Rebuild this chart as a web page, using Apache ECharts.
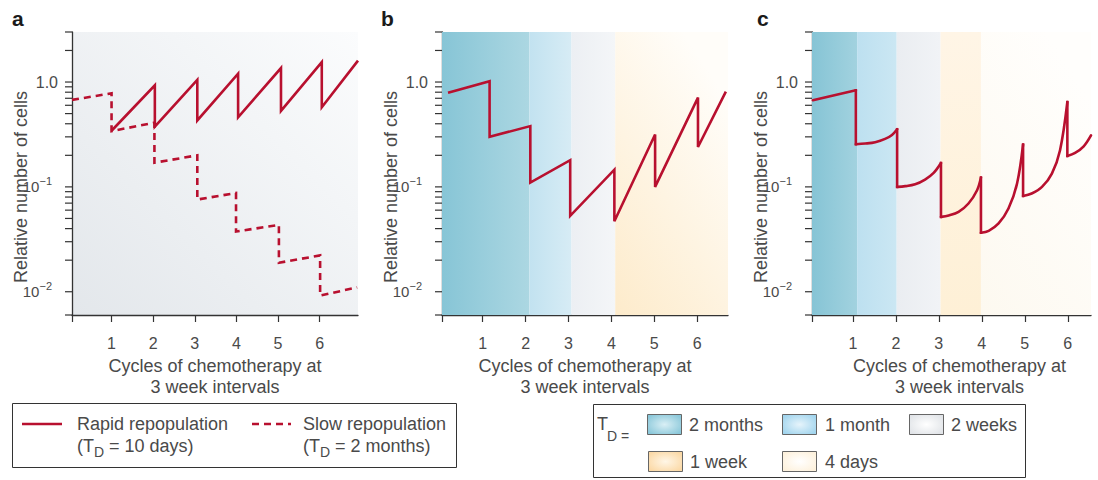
<!DOCTYPE html>
<html><head><meta charset="utf-8">
<script src="https://cdn.jsdelivr.net/npm/echarts@6/dist/echarts.min.js"></script>
<style>html,body{margin:0;padding:0;background:#fff}#c{width:1098px;height:480px}</style>
</head><body><div id="c"></div>
<script>
// ---------- data ----------
const xTickValues = [1, 2, 3, 4, 5, 6];
const yTickValues = [3, 2, 1, 0.9, 0.8, 0.7, 0.6, 0.5, 0.4, 0.3, 0.2, 0.1, 0.09, 0.08, 0.07, 0.06, 0.05, 0.04, 0.03, 0.02, 0.01, 0.006];
const xMin = 0.05;
const xMaxA = 6.92, xMaxB = 6.72, xMaxC = 6.54;
const yMin = 0.006, yMax = 3;

// panel a
const rapidA = [[1.0,0.343],[2.04,0.93],[2.04,0.375],[3.06,1.05],[3.06,0.43],[4.04,1.2],[4.04,0.46],[5.07,1.36],[5.07,0.53],[6.05,1.55],[6.05,0.575],[6.92,1.6]];
const slowA = [[0.05,0.676],[1.0,0.78],[1.0,0.34],[2.03,0.41],[2.03,0.17],[3.06,0.2],[3.06,0.0757],[3.99,0.0875],[3.99,0.0375],[5.02,0.0434],[5.02,0.0189],[6.01,0.0222],[6.01,0.0092],[6.9,0.011]];
// panel b
const lineB = [[0.19,0.79],[1.16,1.02],[1.16,0.30],[2.11,0.38],[2.11,0.11],[3.04,0.18],[3.04,0.053],[4.07,0.146],[4.07,0.047],[5.02,0.316],[5.02,0.1],[6.02,0.71],[6.02,0.24],[6.67,0.81]];
const bandsB = [[0.05,2.09,'2 months'],[2.09,3.07,'1 month'],[3.07,4.09,'2 weeks'],[4.09,6.72,'1 week']];
// panel c
const lineC = [[0.07,0.67],[1.07,0.834],[1.07,0.255],[1.29,0.259],[1.52,0.267],[1.75,0.287],[1.91,0.313],[2.03,0.355],
  [2.03,0.1],[2.22,0.1016],[2.45,0.106],[2.68,0.1175],[2.88,0.136],[3.05,0.169],
  [3.05,0.0518],[3.23,0.0534],[3.46,0.0578],[3.69,0.0694],[3.89,0.093],[3.98,0.123],
  [3.98,0.0365],[4.16,0.0381],[4.39,0.0448],[4.62,0.0622],[4.82,0.1077],[4.96,0.2535],
  [4.96,0.082],[5.16,0.0865],[5.4,0.1],[5.63,0.134],[5.82,0.224],[5.99,0.645],
  [5.99,0.197],[6.17,0.211],[6.37,0.244],[6.54,0.31]];
const bandsC = [[0.05,1.10,'2 months'],[1.10,2.02,'1 month'],[2.02,3.04,'2 weeks'],[3.04,3.98,'1 week'],[3.98,6.54,'4 days']];

const legendTD = ['2 months','1 month','2 weeks','1 week','4 days'];

// ---------- styles ----------
const RED = '#b8102f';
const AX = '#333';
const TXT = '#4a4a4a';
const FONT = '"Liberation Sans", Arial, Helvetica, sans-serif';
function lin(x, y, x2, y2, c1, c2) {
  return {type:'linear', x, y, x2, y2, colorStops:[{offset:0,color:c1},{offset:1,color:c2}]};
}
const bandStyleB = {
  '2 months': lin(0,0,1,0,'#87c5d6','#acd7e2'),
  '1 month':  lin(0,0,1,0,'#c2e2f0','#d7ecf5'),
  '2 weeks':  lin(0,0,1,0,'#eceff3','#f4f6f8'),
  '1 week':   lin(0,1,0.6,0,'#fdebcb','#fffdf9')
};
const bandStyleC = {
  '2 months': lin(0,0,1,0,'#86c4d5','#a2d2df'),
  '1 month':  lin(0,0,1,0,'#bde0f0','#cbe7f3'),
  '2 weeks':  lin(0,0,1,0,'#eaedf1','#f1f3f6'),
  '1 week':   lin(0,1,0,0,'#fef0d6','#fff5e6'),
  '4 days':   lin(0,1,0.6,0,'#fdf9f0','#fffefc')
};
const swatch = {
  '2 months': ['#d9eff5','#8bc8da'],
  '1 month':  ['#e6f4fb','#a2d5ee'],
  '2 weeks':  ['#ffffff','#e1e4e8'],
  '1 week':   ['#fff6e6','#fbd9a6'],
  '4 days':   ['#ffffff','#fdf1dc']
};

const grids = [
  {left:72, top:32, width:286, height:283},
  {left:442, top:32, width:286, height:283},
  {left:812, top:32, width:279, height:283}
];
const xMaxes = [xMaxA, xMaxB, xMaxC];

function fmtY(v) {
  if (Math.abs(v - 1) < 1e-6) return '1.0';
  if (Math.abs(v - 0.1) < 1e-7) return '{b|10}{sup|\u22121}';
  if (Math.abs(v - 0.01) < 1e-8) return '{b|10}{sup|\u22122}';
  return '';
}

const xAxes = grids.map((g, i) => ({
  gridIndex: i, type: 'value', min: xMin, max: xMaxes[i],
  axisLine: {show: true, lineStyle: {color: AX, width: 1.3}},
  axisTick: {show: true, length: 7, lineStyle: {color: AX, width: 1.2}, customValues: [xMin].concat(xTickValues)},
  axisLabel: {show: true, customValues: xTickValues, color: TXT, fontSize: 16, fontFamily: FONT, margin: 20},
  splitLine: {show: false},
  name: 'Cycles of chemotherapy at\n3 week intervals',
  nameLocation: 'middle', nameGap: 32,
  nameTextStyle: {color: TXT, fontSize: 18, fontFamily: FONT, lineHeight: 21, padding: i === 2 ? [0,0,0,16] : 0}
}));

const yAxes = grids.map((g, i) => ({
  gridIndex: i, type: 'log', logBase: 10, min: yMin, max: yMax,
  axisLine: {show: true, lineStyle: {color: AX, width: 1.3}},
  axisTick: {show: false},
  axisLabel: {show: true, color: TXT, fontSize: 16, fontFamily: FONT, margin: 14, lineHeight: 22,
    formatter: fmtY,
    rich: {
      b: {fontSize: 15, lineHeight: 22, color: TXT, fontFamily: FONT},
      sup: {fontSize: 11, lineHeight: 12, verticalAlign: 'top', color: TXT, fontFamily: FONT, padding: [0, 6, 0, 0]}
    }},
  splitLine: {show: false}, minorTick: {show: false},
  name: 'Relative number of cells', nameLocation: 'middle', nameGap: 42, nameMoveOverlap: false,
  nameTextStyle: {color: TXT, fontSize: 18, fontFamily: FONT, padding: [0, 27, 0, 0]}
}));

function tickSeries(i) {
  return {
    type: 'custom', xAxisIndex: i, yAxisIndex: i, silent: true, clip: false, z: 5,
    data: yTickValues.map(v => [xMin, v]),
    renderItem: (params, api) => {
      const p = api.coord([api.value(0), api.value(1)]);
      return {type: 'line', shape: {x1: p[0] - 7, y1: p[1], x2: p[0], y2: p[1]},
        style: {stroke: AX, lineWidth: 1.2}};
    }
  };
}

function bandArea(bands, styles) {
  return {silent: true, label: {show: false},
    data: bands.map(b => [{xAxis: b[0], itemStyle: {color: styles[b[2]], opacity: 1}}, {xAxis: b[1]}])};
}

// split a sawtooth path into its growth curves and its vertical drops (null = gap)
function splitPath(path) {
  const curves = [], drops = [];
  for (let i = 0; i < path.length; i++) {
    curves.push(path[i]);
    if (i + 1 < path.length && path[i + 1][0] === path[i][0]) {
      drops.push(path[i], path[i + 1], null);
      curves.push(null);
    }
  }
  return {curves, drops};
}
const partsC = splitPath(lineC);

const lineBase = {type: 'line', symbol: 'none', showSymbol: false, z: 3,
  lineStyle: {color: RED, width: 2.6, join: 'miter', cap: 'butt'}};

const series = [
  Object.assign({}, lineBase, {name: 'Rapid repopulation', xAxisIndex: 0, yAxisIndex: 0, data: rapidA}),
  Object.assign({}, lineBase, {name: 'Slow repopulation', xAxisIndex: 0, yAxisIndex: 0, data: slowA,
    lineStyle: {color: RED, width: 2.6, type: [7, 5], join: 'miter', cap: 'butt'}}),
  Object.assign({}, lineBase, {name: 'b', xAxisIndex: 1, yAxisIndex: 1, data: lineB, markArea: bandArea(bandsB, bandStyleB)}),
  Object.assign({}, lineBase, {name: 'c', xAxisIndex: 2, yAxisIndex: 2, data: partsC.curves, smooth: 0.35, connectNulls: false,
    lineStyle: {color: RED, width: 2.6, join: 'round', cap: 'round'}, markArea: bandArea(bandsC, bandStyleC)}),
  Object.assign({}, lineBase, {name: 'c drops', xAxisIndex: 2, yAxisIndex: 2, data: partsC.drops, connectNulls: false,
    lineStyle: {color: RED, width: 2.6, join: 'miter', cap: 'square'}}),
  tickSeries(0), tickSeries(1), tickSeries(2)
];

// ---------- legends (graphic) ----------
const tStyle = (extra) => Object.assign({fill: TXT, fontSize: 18, fontFamily: FONT, verticalAlign: 'middle', align: 'left'}, extra || {});
const graphic = [
  {type:'text', x: 12, y: 18, style: {text:'a', fill:'#1a1a1a', fontSize: 21, fontWeight:'bold', fontFamily: FONT, verticalAlign:'middle'}},
  {type:'text', x: 381, y: 18, style: {text:'b', fill:'#1a1a1a', fontSize: 21, fontWeight:'bold', fontFamily: FONT, verticalAlign:'middle'}},
  {type:'text', x: 757, y: 18, style: {text:'c', fill:'#1a1a1a', fontSize: 21, fontWeight:'bold', fontFamily: FONT, verticalAlign:'middle'}},
  // legend 1
  {type:'rect', shape:{x:12.5, y:403.5, width:444, height:64}, style:{fill:'#fff', stroke:'#333', lineWidth:1}},
  {type:'line', shape:{x1:22, y1:424, x2:62, y2:424}, style:{stroke:RED, lineWidth:2.6}},
  {type:'text', x:77, y:424, style: tStyle({text:'Rapid repopulation'})},
  {type:'text', x:77, y:446, style: tStyle({text:'(T'})},
  {type:'text', x:94, y:452, style: tStyle({text:'D', fontSize:14})},
  {type:'text', x:104, y:446, style: tStyle({text:' = 10 days)'})},
  {type:'line', shape:{x1:252, y1:424, x2:291, y2:424}, style:{stroke:RED, lineWidth:2.6, lineDash:[7,5]}},
  {type:'text', x:303, y:424, style: tStyle({text:'Slow repopulation'})},
  {type:'text', x:303, y:446, style: tStyle({text:'(T'})},
  {type:'text', x:320, y:452, style: tStyle({text:'D', fontSize:14})},
  {type:'text', x:330, y:446, style: tStyle({text:' = 2 months)'})},
  // legend 2
  {type:'rect', shape:{x:593.5, y:404.5, width:432, height:73}, style:{fill:'#fff', stroke:'#333', lineWidth:1}},
  {type:'text', x:597, y:424, style: tStyle({text:'T'})},
  {type:'text', x:607, y:436, style: tStyle({text:'D =', fontSize:14})}
];
const swPos = [[647,414,689],[782,414,825],[909,414,951],[648,451,690],[782,451,825]];
legendTD.forEach((name, k) => {
  const [sx, sy, tx] = swPos[k];
  graphic.push({type:'rect', shape:{x:sx+0.5, y:sy+0.5, width:34, height:20},
    style:{fill:{type:'radial', x:0.5, y:0.5, r:0.6, colorStops:[{offset:0,color:swatch[name][0]},{offset:1,color:swatch[name][1]}]},
      stroke:'#666', lineWidth:1}});
  graphic.push({type:'text', x:tx, y:sy+11, style: tStyle({text:name})});
});

const chart = echarts.init(document.getElementById('c'), null, {renderer: 'svg'});
chart.setOption({
  animation: false,
  backgroundColor: '#fff',
  grid: grids.map((g, i) => Object.assign({show: i === 0, borderWidth: 0,
    backgroundColor: i === 0 ? lin(0,1,1,0,'#e3e7eb','#fbfcfd') : 'transparent'}, g)),
  xAxis: xAxes,
  yAxis: yAxes,
  series: series,
  graphic: graphic
});
</script>
</body></html>
